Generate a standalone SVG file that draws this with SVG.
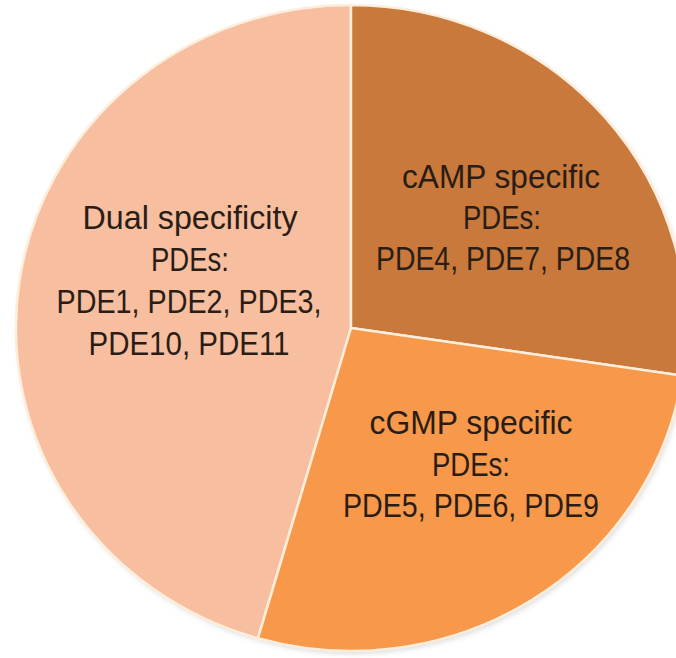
<svg xmlns="http://www.w3.org/2000/svg" width="676" height="658" viewBox="0 0 676 658">
  <style>
    .slice { stroke: #FDEEDC; stroke-width: 2.5; stroke-linejoin: round; }
    .lbl { font-family: "Liberation Sans", Arial, sans-serif; font-size: 33px; fill: #2a1d15; text-anchor: middle; }
  </style>
  <defs>
    <filter id="blur" x="-10%" y="-10%" width="120%" height="120%">
      <feGaussianBlur stdDeviation="2.5"/>
    </filter>
  </defs>
  <rect width="676" height="658" fill="#ffffff"/>
  <ellipse cx="353" cy="331" rx="335" ry="323" fill="#c8c8c8" opacity="0.6" filter="url(#blur)"/>
  <g id="dual">
    <path class="slice" fill="#F7BEA0" d="M351,328 L257.9,638.3 A335,323 0 0 1 351,5 Z"/>
    <text class="lbl" x="190" y="229" textLength="215" lengthAdjust="spacingAndGlyphs">Dual specificity</text>
    <text class="lbl" x="190" y="271" textLength="78" lengthAdjust="spacingAndGlyphs">PDEs:</text>
    <text class="lbl" x="189" y="313" textLength="265" lengthAdjust="spacingAndGlyphs">PDE1, PDE2, PDE3,</text>
    <text class="lbl" x="189" y="355" textLength="201" lengthAdjust="spacingAndGlyphs">PDE10, PDE11</text>
  </g>
  <g id="camp">
    <path class="slice" fill="#C8793B" d="M351,328 L351,5 A335,323 0 0 1 682.4,375.6 Z"/>
    <text class="lbl" x="501" y="188" textLength="198" lengthAdjust="spacingAndGlyphs">cAMP specific</text>
    <text class="lbl" x="502" y="229" textLength="78" lengthAdjust="spacingAndGlyphs">PDEs:</text>
    <text class="lbl" x="503" y="270" textLength="254" lengthAdjust="spacingAndGlyphs">PDE4, PDE7, PDE8</text>
  </g>
  <g id="cgmp">
    <path class="slice" fill="#F7984A" d="M351,328 L682.4,375.6 A335,323 0 0 1 257.9,638.3 Z"/>
    <text class="lbl" x="471" y="434" textLength="203" lengthAdjust="spacingAndGlyphs">cGMP specific</text>
    <text class="lbl" x="471" y="476" textLength="78" lengthAdjust="spacingAndGlyphs">PDEs:</text>
    <text class="lbl" x="471" y="517" textLength="256" lengthAdjust="spacingAndGlyphs">PDE5, PDE6, PDE9</text>
  </g>
  <g id="connectors"></g>
</svg>
